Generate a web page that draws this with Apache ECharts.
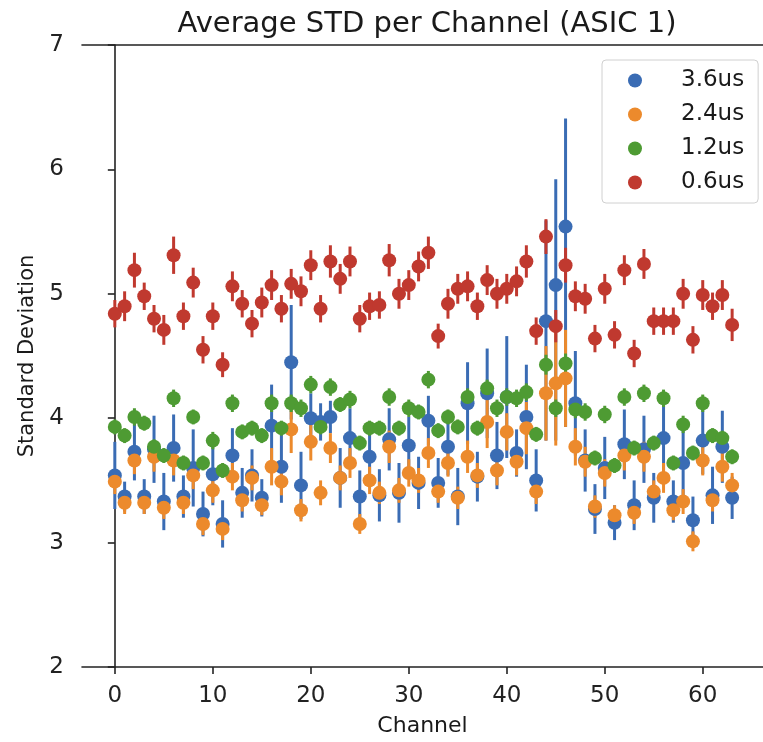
<!DOCTYPE html>
<html>
<head>
<meta charset="utf-8">
<script src="https://cdn.jsdelivr.net/npm/echarts@6/dist/echarts.min.js"></script>
<style>
html,body{margin:0;padding:0;background:#fff;}
#chart{width:763px;height:742px;}
</style>
</head>
<body>
<div id="chart"></div>
<script>
// ---- data ----
const channels = Array.from({length: 64}, (_, i) => i);
const seriesNames = ['3.6us', '2.4us', '1.2us', '0.6us'];
const xTicks = [0, 10, 20, 30, 40, 50, 60];

const blue = [3.54,3.37,3.73,3.37,3.75,3.33,3.76,3.37,3.60,3.23,3.55,3.15,3.70,3.40,3.54,3.36,3.94,3.61,4.45,3.46,
  4.00,3.97,4.01,3.52,3.84,3.37,3.69,3.38,3.83,3.40,3.78,3.48,3.98,3.48,3.77,3.37,4.12,3.53,4.20,3.70,
  4.17,3.72,4.01,3.50,4.78,5.07,5.54,4.12,3.66,3.27,3.60,3.16,3.79,3.30,3.75,3.36,3.84,3.33,3.64,3.18,
  3.82,3.38,3.77,3.36];
const blueErrUp = [0.27,0.12,0.23,0.14,0.27,0.23,0.27,0.17,0.31,0.18,0.25,0.19,0.22,0.20,0.21,0.15,0.33,0.29,0.46,0.27,
  0.20,0.15,0.13,0.24,0.24,0.21,0.23,0.21,0.25,0.24,0.23,0.21,0.20,0.20,0.23,0.23,0.33,0.20,0.36,0.27,
  0.49,0.19,0.42,0.25,0.81,0.85,0.87,0.42,0.25,0.20,0.25,0.14,0.28,0.20,0.27,0.20,0.36,0.17,0.28,0.19,
  0.27,0.23,0.29,0.17];
const blueErrDown = [0.27,0.12,0.23,0.14,0.27,0.23,0.27,0.17,0.31,0.18,0.25,0.19,0.22,0.20,0.21,0.15,0.33,0.29,0.46,0.27,
  0.20,0.15,0.13,0.24,0.24,0.21,0.23,0.21,0.25,0.24,0.23,0.21,0.20,0.20,0.23,0.23,0.33,0.20,0.36,0.27,
  0.49,0.19,0.42,0.25,0.96,1.25,1.61,0.42,0.25,0.20,0.25,0.14,0.28,0.20,0.27,0.20,0.36,0.17,0.28,0.19,
  0.27,0.23,0.29,0.17];

const orange = [3.49,3.32,3.66,3.32,3.69,3.28,3.66,3.32,3.54,3.15,3.42,3.11,3.53,3.34,3.52,3.30,3.61,3.49,3.91,3.26,
  3.81,3.40,3.76,3.52,3.64,3.15,3.50,3.40,3.77,3.42,3.56,3.50,3.72,3.41,3.64,3.36,3.69,3.54,3.97,3.58,
  3.89,3.65,3.92,3.41,4.20,4.28,4.32,3.77,3.65,3.29,3.56,3.22,3.70,3.24,3.69,3.41,3.52,3.26,3.33,3.01,
  3.66,3.34,3.61,3.46];
const orangeErr = [0.10,0.09,0.11,0.09,0.12,0.09,0.12,0.09,0.11,0.09,0.10,0.09,0.11,0.09,0.10,0.08,0.15,0.11,0.19,0.09,
  0.15,0.10,0.12,0.10,0.12,0.08,0.11,0.09,0.13,0.10,0.11,0.10,0.12,0.09,0.11,0.09,0.13,0.10,0.21,0.12,
  0.15,0.11,0.21,0.10,0.38,0.50,0.39,0.15,0.12,0.09,0.11,0.08,0.12,0.09,0.12,0.09,0.12,0.08,0.10,0.08,
  0.12,0.09,0.12,0.10];

const green = [3.93,3.86,4.01,3.96,3.77,3.70,4.16,3.64,4.01,3.64,3.82,3.58,4.12,3.89,3.92,3.86,4.12,3.92,4.12,4.08,
  4.27,3.93,4.25,4.11,4.15,3.80,3.92,3.92,4.17,3.92,4.08,4.05,4.31,3.90,4.01,3.93,4.17,3.92,4.24,4.08,
  4.17,4.16,4.21,3.87,4.43,4.08,4.44,4.07,4.05,3.68,4.03,3.62,4.17,3.76,4.20,3.80,4.16,3.64,3.95,3.72,
  4.12,3.86,3.84,3.69];
const greenErr = [0.06,0.06,0.07,0.06,0.06,0.06,0.07,0.06,0.06,0.06,0.07,0.06,0.07,0.06,0.06,0.06,0.07,0.06,0.07,0.07,
  0.07,0.06,0.07,0.06,0.07,0.06,0.06,0.06,0.07,0.06,0.07,0.06,0.07,0.06,0.06,0.06,0.07,0.06,0.07,0.07,
  0.07,0.07,0.07,0.06,0.08,0.07,0.08,0.07,0.07,0.06,0.07,0.06,0.07,0.06,0.07,0.06,0.07,0.06,0.07,0.06,
  0.07,0.06,0.06,0.06];

const red = [4.84,4.90,5.19,4.98,4.80,4.71,5.31,4.82,5.09,4.55,4.82,4.43,5.06,4.92,4.76,4.93,5.07,4.88,5.08,5.02,
  5.23,4.88,5.26,5.12,5.26,4.80,4.90,4.91,5.27,5.00,5.07,5.22,5.33,4.66,4.92,5.04,5.06,4.90,5.11,5.00,
  5.04,5.10,5.26,4.70,5.46,4.74,5.23,4.98,4.96,4.64,5.04,4.67,5.19,4.52,5.24,4.78,4.78,4.78,5.00,4.63,
  4.99,4.90,4.99,4.75];
const redErr = [0.11,0.12,0.14,0.11,0.11,0.12,0.15,0.11,0.12,0.11,0.11,0.10,0.12,0.11,0.11,0.12,0.12,0.11,0.12,0.12,
  0.12,0.11,0.13,0.12,0.12,0.11,0.11,0.11,0.13,0.12,0.12,0.12,0.13,0.10,0.12,0.12,0.12,0.11,0.12,0.12,
  0.12,0.12,0.13,0.11,0.14,0.13,0.14,0.12,0.12,0.11,0.12,0.11,0.12,0.11,0.12,0.11,0.11,0.11,0.12,0.11,
  0.12,0.11,0.12,0.13];

// ---- styling ----
const colors = ['#3a6cb4', '#ec8a2c', '#4e9b33', '#c0392f'];
const FONT = 'DejaVu Sans';

const vals = [blue, orange, green, red];
const ups = [blueErrUp, orangeErr, greenErr, redErr];
const downs = [blueErrDown, orangeErr, greenErr, redErr];

const series = [];
vals.forEach((v, s) => {
  series.push({
    name: 'err_' + seriesNames[s],
    type: 'custom',
    xAxisIndex: 0, yAxisIndex: 0,
    silent: true,
    data: channels.map((c, i) => [c, v[i] - downs[s][i], v[i] + ups[s][i]]),
    encode: {x: 0, y: [1, 2]},
    renderItem: function (params, api) {
      const p1 = api.coord([api.value(0), api.value(1)]);
      const p2 = api.coord([api.value(0), api.value(2)]);
      return {
        type: 'line',
        shape: {x1: p1[0], y1: p1[1], x2: p2[0], y2: p2[1]},
        style: {stroke: colors[s], lineWidth: 3}
      };
    }
  });
  series.push({
    name: seriesNames[s],
    type: 'scatter',
    symbol: 'circle',
    symbolSize: 14,
    itemStyle: {color: colors[s], opacity: 1},
    data: channels.map((c, i) => [c, v[i]])
  });
});

const chart = echarts.init(document.getElementById('chart'), null, {renderer: 'canvas'});
chart.setOption({
  animation: false,
  backgroundColor: '#ffffff',
  title: {
    text: 'Average STD per Channel (ASIC 1)',
    left: 427, top: 10, textAlign: 'center', padding: 0,
    textStyle: {fontFamily: FONT, fontSize: 29, fontWeight: 'normal', color: '#1a1a1a'}
  },
  legend: {
    data: seriesNames,
    orient: 'vertical',
    left: 602, top: 60,
    padding: [9, 14, 9, 26],
    itemGap: 11,
    itemWidth: 14, itemHeight: 14,
    icon: 'circle',
    borderColor: '#d0d0d0', borderWidth: 1, borderRadius: 4,
    backgroundColor: 'rgba(255,255,255,0.85)',
    textStyle: {fontFamily: FONT, fontSize: 23, color: '#1a1a1a', padding: [0, 0, 0, 34]}
  },
  grid: {left: 82, top: 45, width: 686, height: 622, containLabel: false},
  xAxis: [{
    type: 'value', min: -3.35, max: 66.15,
    name: 'Channel', nameLocation: 'middle', nameGap: 48,
    nameTextStyle: {fontFamily: FONT, fontSize: 22, color: '#1a1a1a'},
    axisLine: {lineStyle: {color: '#222', width: 1.6}},
    axisTick: {show: true, length: 7, inside: false, customValues: xTicks, lineStyle: {color: '#222', width: 1.6}},
    axisLabel: {customValues: xTicks, margin: 18, fontFamily: FONT, fontSize: 23, color: '#222'},
    splitLine: {show: false}
  }, {
    type: 'value', min: -3.35, max: 66.15, position: 'top',
    axisLine: {show: true, lineStyle: {color: '#222', width: 1.6}},
    axisTick: {show: false}, axisLabel: {show: false}, splitLine: {show: false}
  }],
  yAxis: {
    type: 'value', min: 2, max: 7, interval: 1,
    name: 'Standard Deviation', nameLocation: 'middle', nameGap: 44,
    nameTextStyle: {fontFamily: FONT, fontSize: 21, color: '#1a1a1a'},
    axisLine: {show: true, lineStyle: {color: '#222', width: 1.6}},
    axisTick: {show: true, length: 7, lineStyle: {color: '#222', width: 1.6}},
    axisLabel: {margin: 18, fontFamily: FONT, fontSize: 23, color: '#222'},
    splitLine: {show: false}
  },
  series: series
});
</script>
</body>
</html>
